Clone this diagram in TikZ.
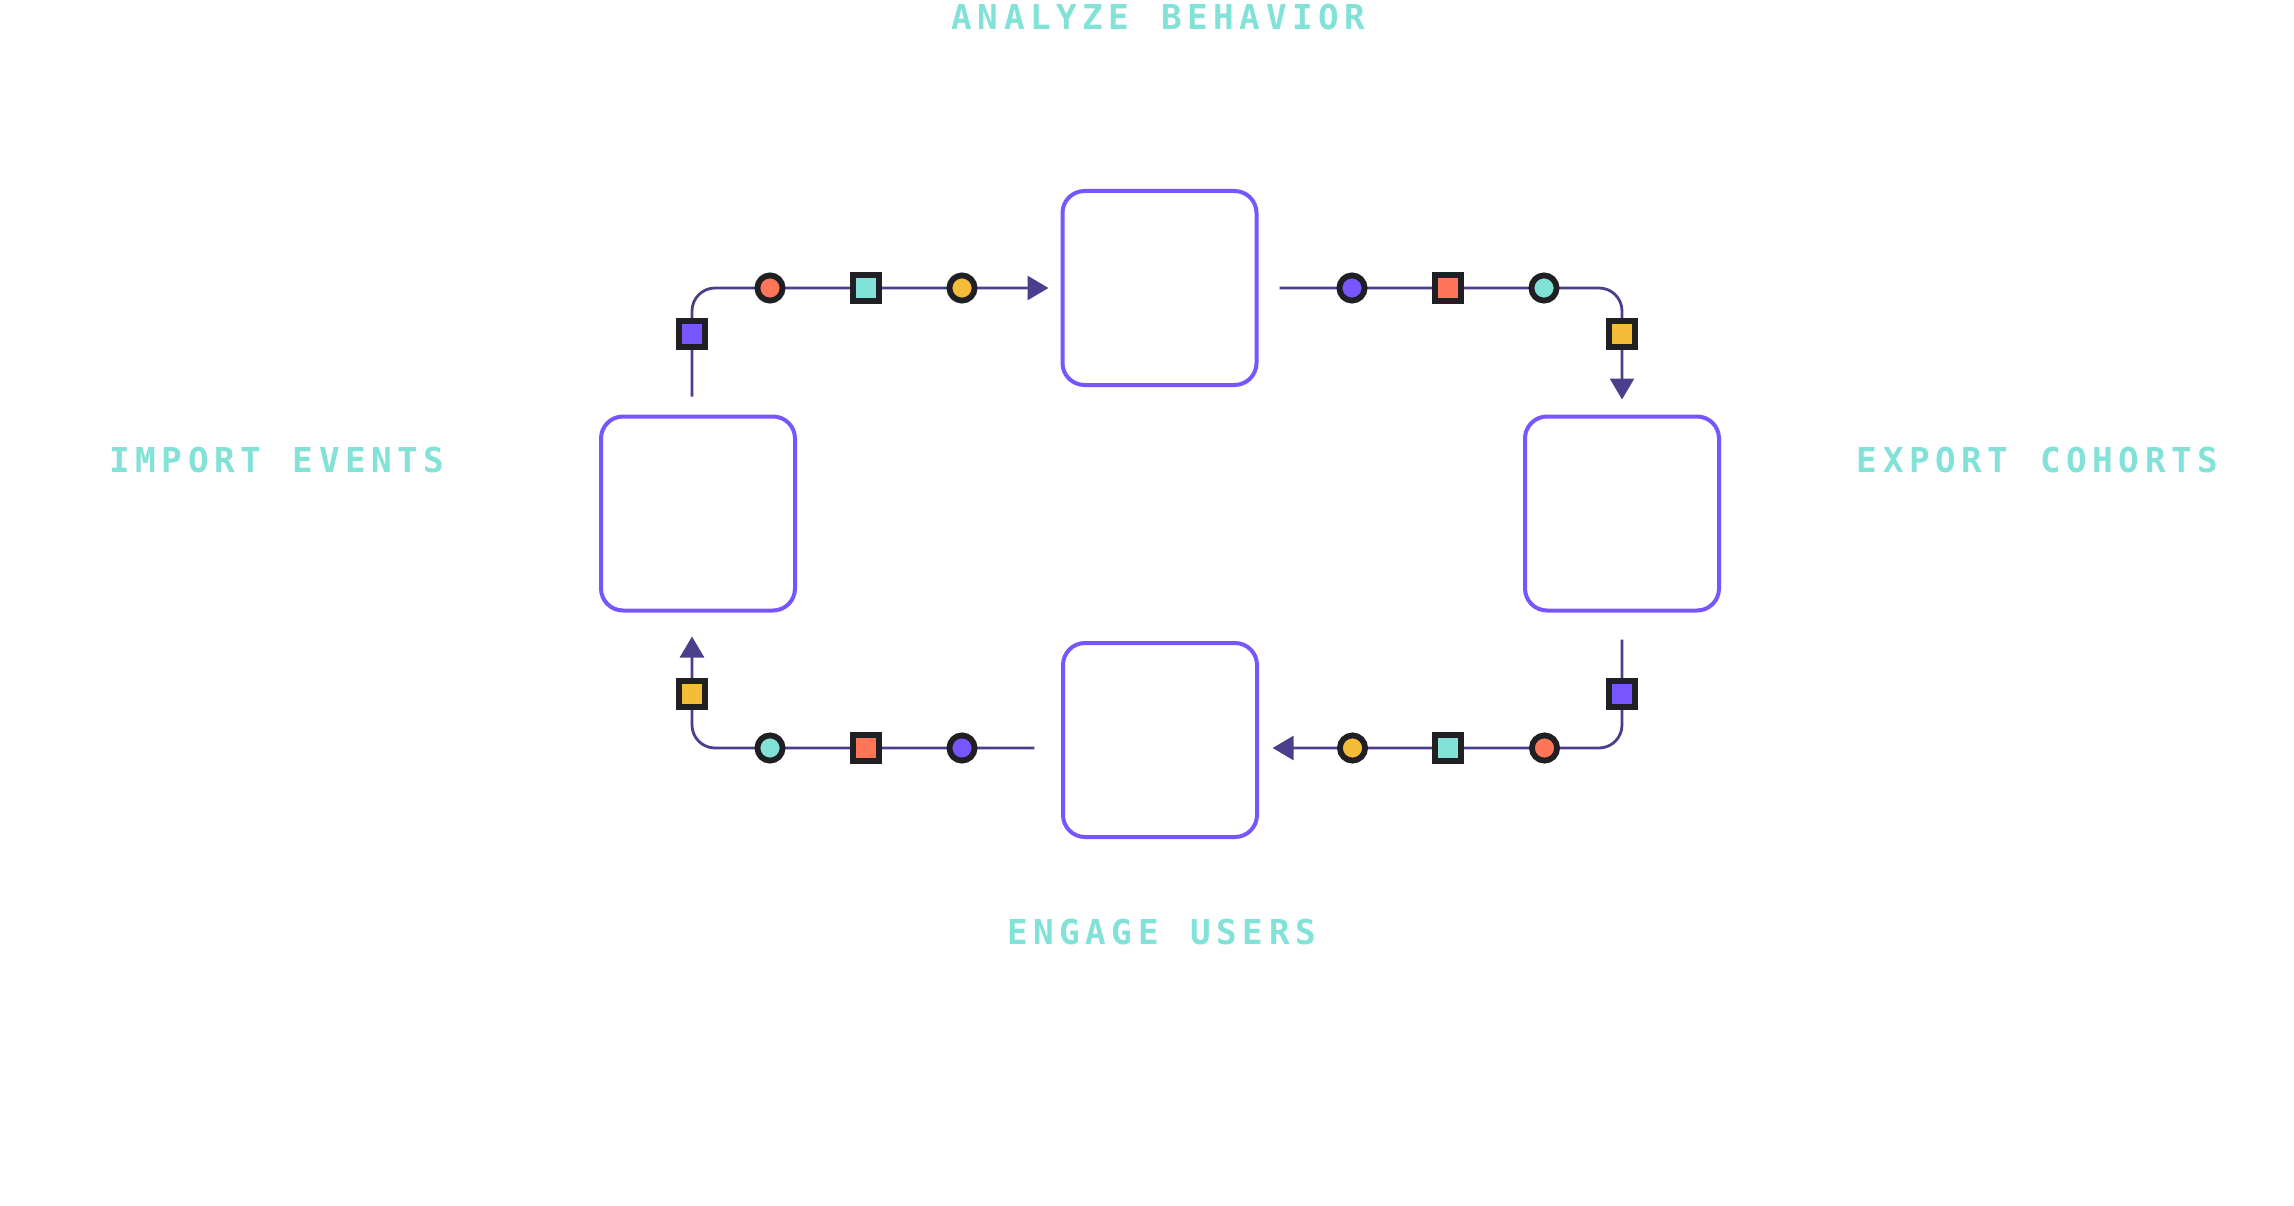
\documentclass[tikz,border=0pt]{standalone}
\usepackage{fontspec}
\setmonofont{DejaVu Sans Mono}
\usetikzlibrary{arrows.meta,calc}
\definecolor{boxc}{HTML}{7856FF}
\definecolor{linec}{HTML}{4A3F8C}
\definecolor{ink}{HTML}{201F24}
\definecolor{redc}{HTML}{FF7557}
\definecolor{tealc}{HTML}{82E2D8}
\definecolor{yelc}{HTML}{F5BC3A}
\definecolor{purc}{HTML}{7856FF}
\makeatletter
\newlength\trkw \setlength\trkw{26.2pt}
\newcommand\trk[1]{\@tfor\tk@c:=#1\do{\makebox[\trkw][c]{\tk@c}}}
\makeatother
\begin{document}
\begin{tikzpicture}[x=1pt,y=-1pt,
  stage/.style={draw=boxc, line width=4pt, rounded corners=22pt, minimum width=194pt, minimum height=194pt, outer sep=0pt, inner sep=0pt},
  flow/.style={draw=linec, line width=2.8pt, rounded corners=23pt, -{Triangle[length=21pt,width=24pt]}},
  sqm/.style={rectangle, draw=ink, line width=6pt, minimum size=26pt, inner sep=0pt, outer sep=0pt},
  cim/.style={circle, draw=ink, line width=5.8pt, minimum size=25.2pt, inner sep=0pt, outer sep=0pt},
  lbl/.style={text=tealc, font=\ttfamily\bfseries\fontsize{34.3pt}{40pt}\selectfont, anchor=base, inner sep=0pt}]
\useasboundingbox[fill=white] (0,0) rectangle (2294,1206);
% stages
\node[stage] (T) at (1159.5,288) {};
\node[stage] (L) at (698,513.5) {};
\node[stage] (R) at (1622,513.5) {};
\node[stage] (B) at (1160,740) {};
% labels
\node[lbl] (lt) at (1158.5,30) {\trk{ANALYZE~BEHAVIOR}};
\node[lbl] (ll) at (277,472) {\trk{IMPORT~EVENTS}};
\node[lbl] (lr) at (2037.5,472) {\trk{EXPORT~COHORTS}};
\node[lbl] (lb) at (1161.5,944) {\trk{ENGAGE~USERS}};
% connector end points
\coordinate (s1) at ($(L.north)+(-6,-20)$);
\coordinate (e1) at ($(T.west)+(-14,0)$);
\coordinate (s2) at ($(T.east)+(23,0)$);
\coordinate (e2) at ($(R.north)+(0,-17)$);
\coordinate (s3) at ($(R.south)+(0,29)$);
\coordinate (e3) at ($(B.east)+(15.6,8)$);
\coordinate (s4) at ($(B.west)+(-28.6,8)$);
\coordinate (e4) at ($(L.south)+(-6,26)$);
% connectors
\draw[flow] (s1) |- (e1);
\draw[flow] (s2) -| (e2);
\draw[flow] (s3) |- (e3);
\draw[flow] (s4) -| (e4);
% markers: import -> analyze
\node[sqm, fill=purc] (m1a) at (692,334) {};
\node[cim, fill=redc] (m1b) at (770,288) {};
\node[sqm, fill=tealc] (m1c) at (866,288) {};
\node[cim, fill=yelc] (m1d) at (962,288) {};
% analyze -> export
\node[cim, fill=purc] (m2a) at (1352,288) {};
\node[sqm, fill=redc] (m2b) at (1448,288) {};
\node[cim, fill=tealc] (m2c) at (1544,288) {};
\node[sqm, fill=yelc] (m2d) at (1622,334) {};
% export -> engage
\node[sqm, fill=purc] (m3a) at (1622,694) {};
\node[cim, fill=redc] (m3b) at (1544.5,748) {};
\node[sqm, fill=tealc] (m3c) at (1448,748) {};
\node[cim, fill=yelc] (m3d) at (1352.5,748) {};
% engage -> import
\node[cim, fill=purc] (m4a) at (962,748) {};
\node[sqm, fill=redc] (m4b) at (866,748) {};
\node[cim, fill=tealc] (m4c) at (770,748) {};
\node[sqm, fill=yelc] (m4d) at (692,694) {};
\end{tikzpicture}
\end{document}
